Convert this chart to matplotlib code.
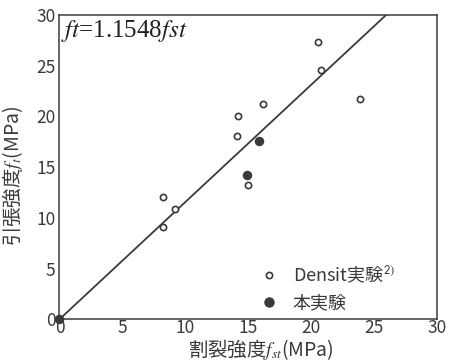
import matplotlib
matplotlib.use("Agg")
import matplotlib.pyplot as plt
from matplotlib.lines import Line2D

plt.rcParams["font.family"] = ["Noto Sans CJK JP", "DejaVu Sans"]
plt.rcParams["mathtext.fontset"] = "stix"

INK = "#3a3a3a"

# Densit experiments (open circles)
densit_x = [8.2, 8.2, 9.2, 14.1, 14.2, 15.0, 16.2, 20.6, 20.8, 23.9]
densit_y = [12.1, 9.1, 10.9, 18.1, 20.0, 13.2, 21.2, 27.3, 24.6, 21.7]
# this study (filled circles)
own_x = [0.0, 14.9, 15.9]
own_y = [0.0, 14.2, 17.6]
# regression ft = 1.1548 fst
slope = 1.1548
line_x = [0.0, 30.0 / slope]

ticks = [0, 5, 10, 15, 20, 25, 30]

fig = plt.figure(figsize=(4.49, 3.62), dpi=100)
ax = fig.add_axes([0.1325, 0.118, 0.840, 0.8406])

ax.plot(line_x, [slope * v for v in line_x], color=INK, lw=1.3, zorder=2)
ax.scatter(densit_x, densit_y, s=20, facecolors="white", edgecolors=INK,
           linewidths=1.2, zorder=3)
ax.scatter(own_x, own_y, s=34, color=INK, zorder=4, clip_on=False)

ax.set_xlim(0, 30)
ax.set_ylim(0, 30)
ax.set_xticks(ticks)
ax.set_yticks(ticks)
ax.tick_params(length=0, labelsize=12.5, labelcolor=INK, pad=3)
ax.tick_params(axis="x", pad=0)
for sp in ax.spines.values():
    sp.set_color(INK)
    sp.set_linewidth(1.1)

ax.set_xlabel("割裂強度$f_{st}$(MPa)", fontsize=14, color=INK)
ax.xaxis.set_label_coords(0.535, -0.058)
ax.set_ylabel("引張強度$f_t$(MPa)", fontsize=14, color=INK)
ax.yaxis.set_label_coords(-0.092, 0.47)

ax.text(0.005, 0.99, "$ft$=1.1548$fst$", transform=ax.transAxes,
        ha="left", va="top", fontsize=18, color="#222222",
        family="Liberation Serif")

handles = [
    Line2D([], [], ls="none", marker="o", ms=4.5, mfc="white", mec=INK, mew=1.2),
    Line2D([], [], ls="none", marker="o", ms=6.5, color=INK),
]
ax.legend(handles, ["Densit実験$^{\\mathsf{2)}}$", "本実験"], loc="lower left",
          bbox_to_anchor=(0.513, 0.0), borderaxespad=0, frameon=False,
          fontsize=13, handlelength=1.0, handletextpad=0.8, labelspacing=0.45,
          labelcolor=INK)

fig.savefig("out.png", dpi=100)
